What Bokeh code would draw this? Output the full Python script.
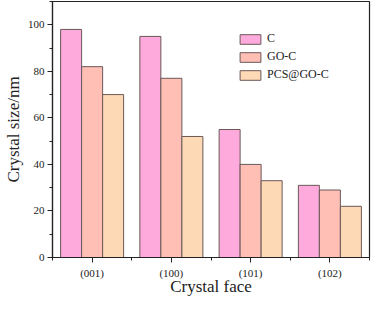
import numpy as np
from bokeh.plotting import figure
from bokeh.models import FixedTicker, SingleIntervalTicker, Range1d, Legend, LegendItem
from bokeh.embed import file_html
from bokeh.resources import INLINE

categories = ["(001)", "(100)", "(101)", "(102)"]
series_names = ["C", "GO-C", "PCS@GO-C"]
c_vals = [98, 95, 55, 31]
goc_vals = [82, 77, 40, 29]
pcs_vals = [70, 52, 33, 22]
colors = ["#FFAADD", "#FFBFB5", "#FDD9B5"]
x_title = "Crystal face"
y_title = "Crystal size/nm"

FONT = "Liberation Serif"
TXT = "#222222"

p = figure(width=371, height=298, output_backend="svg", toolbar_location=None,
           x_range=Range1d(0, len(categories)), y_range=Range1d(0, 110),
           min_border_left=0, min_border_right=2, min_border_top=1, min_border_bottom=0)
p.grid.visible = False
p.outline_line_color = TXT
p.outline_line_width = 1.2

bw = 0.265
x0 = np.arange(len(categories)) + 0.5
renderers = []
for i, (vals, col) in enumerate(zip([c_vals, goc_vals, pcs_vals], colors)):
    r = p.vbar(x=x0 + (i - 1) * bw, top=vals, width=bw, bottom=0,
               fill_color=col, line_color="#6a5858", line_width=1)
    renderers.append(r)

p.xaxis.ticker = FixedTicker(ticks=list(x0), minor_ticks=list(range(len(categories) + 1)))
p.xaxis.major_label_overrides = {float(x): c for x, c in zip(x0, categories)}
p.xaxis.major_tick_out = 5
p.xaxis.major_tick_in = 0
p.xaxis.minor_tick_out = 3
p.xaxis.minor_tick_in = 0
p.xaxis.axis_label = x_title

p.yaxis.ticker = SingleIntervalTicker(interval=20, num_minor_ticks=2)
p.yaxis.major_tick_out = 5
p.yaxis.major_tick_in = 0
p.yaxis.minor_tick_out = 3
p.yaxis.minor_tick_in = 0
p.yaxis.axis_label = y_title

for ax in [p.xaxis[0], p.yaxis[0]]:
    ax.axis_line_color = TXT
    ax.axis_line_width = 1.2
    ax.major_tick_line_color = TXT
    ax.minor_tick_line_color = TXT
    ax.major_label_text_font = FONT
    ax.major_label_text_font_size = "11px"
    ax.major_label_text_color = TXT
    ax.axis_label_text_font = FONT
    ax.axis_label_text_font_size = "17px"
    ax.axis_label_text_font_style = "normal"
    ax.axis_label_text_color = TXT
p.xaxis.major_label_standoff = 4
p.xaxis.axis_label_standoff = -5
p.yaxis.major_label_standoff = 3
p.yaxis.axis_label_standoff = 2

legend = Legend(items=[LegendItem(label=n, renderers=[r]) for n, r in zip(series_names, renderers)],
                location=(185, 175), orientation="vertical")
legend.glyph_width = 26
legend.glyph_height = 12
legend.label_height = 12
legend.spacing = 3
legend.padding = 0
legend.margin = 0
legend.label_standoff = 4
legend.label_text_font = FONT
legend.label_text_font_size = "12px"
legend.label_text_color = TXT
legend.border_line_color = None
legend.background_fill_alpha = 0
p.add_layout(legend, "center")

open("out.html", "w").write(file_html(p, INLINE))
